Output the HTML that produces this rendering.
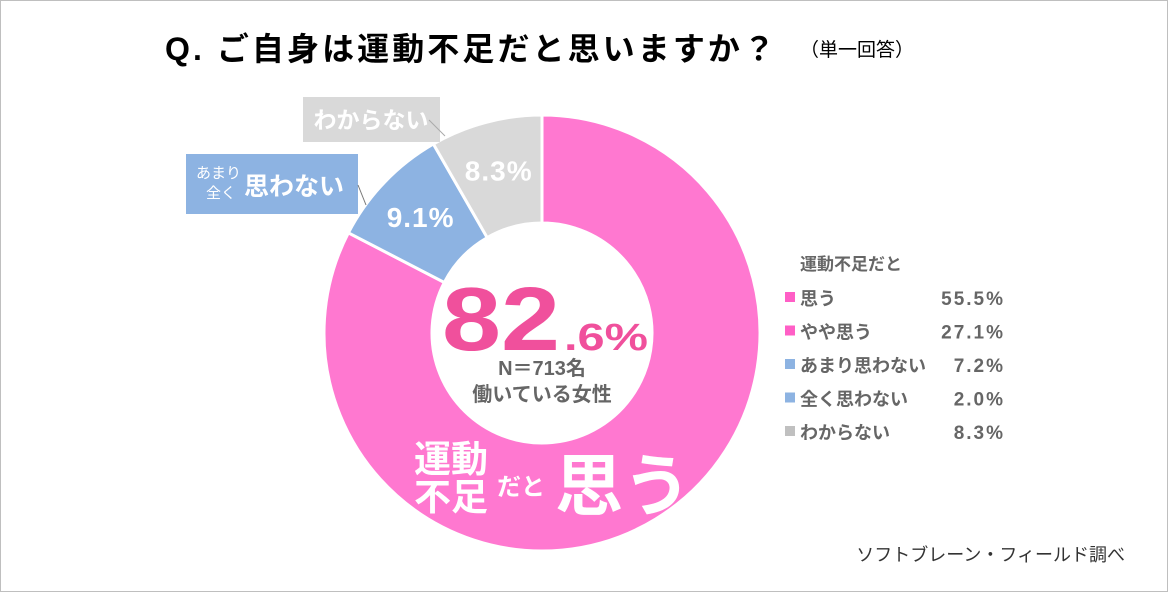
<!DOCTYPE html>
<html><head><meta charset="utf-8"><style>
body{margin:0;width:1168px;height:592px;overflow:hidden;background:#fff;font-family:"Liberation Sans","Noto Sans CJK JP",sans-serif}
svg{display:block}
</style></head><body>
<svg width="1168" height="592" viewBox="0 0 1168 592" font-family="Liberation Sans, Noto Sans CJK JP, sans-serif">
<rect x="0.5" y="0.5" width="1167" height="591" fill="#fff" stroke="#bfbfbf"/>
<text x="165" y="60" font-size="32" font-weight="bold" fill="#000" textLength="610" lengthAdjust="spacing">Q.  ご自身は運動不足だと思いますか？</text>
<text x="800" y="56" font-size="19" fill="#000">（単一回答）</text>
<g id="donut"></g>
<g>
<text x="442" y="350" font-size="90" font-weight="bold" fill="#f0509c" textLength="118" lengthAdjust="spacingAndGlyphs">82</text>
<text x="564" y="350" font-size="38" font-weight="bold" fill="#f0509c" textLength="84" lengthAdjust="spacingAndGlyphs">.6%</text>
<text x="542" y="375" font-size="20" font-weight="bold" fill="#666" text-anchor="middle">N＝713名</text>
<text x="542" y="401" font-size="20" font-weight="bold" fill="#666" text-anchor="middle">働いている女性</text>
</g>
<g fill="#fff" font-weight="bold">
<text x="414" y="472" font-size="37">運動</text>
<text x="414" y="510" font-size="37">不足</text>
<text x="497" y="495" font-size="24">だと</text>
<text x="555" y="510" font-size="68">思う</text>
</g>
<rect x="303" y="97" width="137" height="45" fill="#d9d9d9"/>
<text x="371" y="128" font-size="23" font-weight="bold" fill="#fff" text-anchor="middle">わからない</text>
<line x1="429" y1="120" x2="445" y2="136" stroke="#aaa"/>
<rect x="186" y="154" width="172" height="60" fill="#8db3e2"/>
<text x="196" y="178" font-size="15" fill="#fff">あまり</text>
<text x="206" y="198" font-size="15" fill="#fff">全く</text>
<text x="244" y="195" font-size="25" font-weight="bold" fill="#fff">思わない</text>
<line x1="358" y1="185" x2="366" y2="205" stroke="#777"/>
<g id="legend">
<text x="800" y="270" font-size="17" font-weight="bold" fill="#666">運動不足だと</text>
</g>
<text x="1125" y="561" font-size="18" fill="#333" text-anchor="end">ソフトブレーン・フィールド調べ</text>
</svg>
<script>
const sliceLabels=["思う","思わない","わからない"];
const sliceValues=[82.6,9.1,8.3];
const sliceColors=["#ff78d0","#8db3e2","#d9d9d9"];
const legendLabels=["思う","やや思う","あまり思わない","全く思わない","わからない"];
const legendValues=[55.5,27.1,7.2,2.0,8.3];
const legendColors=["#ff5fc6","#ff5fc6","#8db3e2","#8db3e2","#c0c0c0"];
const NS="http://www.w3.org/2000/svg";
const cx=542,cy=333,R=218,r=110;
const donut=document.getElementById('donut');
const total=sliceValues.reduce((a,b)=>a+b,0);
function pt(a,rad){return [cx+rad*Math.sin(a),cy-rad*Math.cos(a)];}
let acc=0;
sliceValues.forEach((v,i)=>{
 const a0=acc/total*2*Math.PI,a1=(acc+v)/total*2*Math.PI;acc+=v;
 const big=(a1-a0)>Math.PI?1:0;
 const [x0,y0]=pt(a0,R),[x1,y1]=pt(a1,R),[x2,y2]=pt(a1,r),[x3,y3]=pt(a0,r);
 const p=document.createElementNS(NS,'path');
 p.setAttribute('d',`M${x0},${y0}A${R},${R} 0 ${big} 1 ${x1},${y1}L${x2},${y2}A${r},${r} 0 ${big} 0 ${x3},${y3}Z`);
 p.setAttribute('fill',sliceColors[i]);p.setAttribute('stroke','#fff');p.setAttribute('stroke-width','3');
 
 
 donut.appendChild(p);
 if(i>0){
  const am=(a0+a1)/2;const [tx,ty]=pt(am,(R+r)/2+4);
  const t=document.createElementNS(NS,'text');
  t.setAttribute('x',tx);t.setAttribute('y',ty+10);t.setAttribute('text-anchor','middle');
  t.setAttribute('font-size','28');t.setAttribute('font-weight','bold');t.setAttribute('fill','#fff');
  t.setAttribute('letter-spacing','1');
  t.textContent=v.toFixed(1)+'%';
  
  
  donut.appendChild(t);
 }
});
const lg=document.getElementById('legend');
legendLabels.forEach((l,i)=>{
 const y=305+i*33.5;
 const s=document.createElementNS(NS,'rect');
 s.setAttribute('x',785);s.setAttribute('y',y-13);s.setAttribute('width',10);s.setAttribute('height',10);s.setAttribute('fill',legendColors[i]);
 
 
 lg.appendChild(s);
 const t=document.createElementNS(NS,'text');
 t.setAttribute('x',800);t.setAttribute('y',y);t.setAttribute('font-size','18');t.setAttribute('font-weight','bold');t.setAttribute('fill','#666');
 t.textContent=l;
 
 
 lg.appendChild(t);
 const v=document.createElementNS(NS,'text');
 v.setAttribute('x',1005);v.setAttribute('y',y);v.setAttribute('font-size','19');v.setAttribute('font-weight','bold');v.setAttribute('fill','#666');v.setAttribute('text-anchor','end');
 v.setAttribute('letter-spacing','2');
 v.textContent=legendValues[i].toFixed(1)+'%';
 
 
 lg.appendChild(v);
});
</script>
</body></html>
